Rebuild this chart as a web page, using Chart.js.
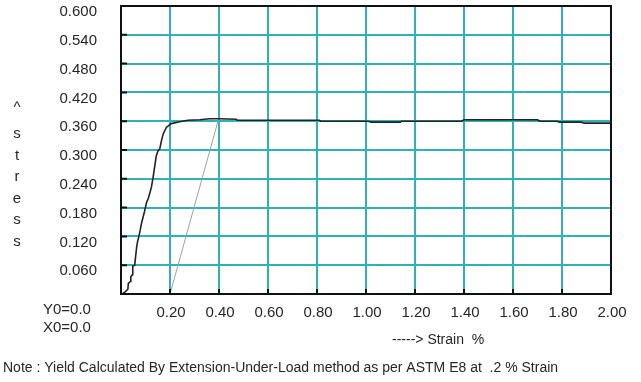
<!DOCTYPE html>
<html>
<head>
<meta charset="utf-8">
<title>Stress - Strain</title>
<script src="https://cdn.jsdelivr.net/npm/chart.js@4.4.1/dist/chart.umd.min.js"></script>
<style>
    html, body { margin: 0; padding: 0; background: #fff; }
    #wrap { position: relative; width: 641px; height: 382px; }
</style>
</head>
<body>
<div id="wrap"><canvas id="stressChart" width="641" height="382"></canvas></div>
<script>
// measured curve (strain %, stress)
const strain = [0.004, 0.016, 0.028, 0.030, 0.038, 0.040, 0.046, 0.048, 0.056, 0.060,
    0.064, 0.068, 0.072, 0.078, 0.084, 0.090, 0.096, 0.104, 0.112, 0.124,
    0.131, 0.138, 0.144, 0.151, 0.158, 0.165, 0.172, 0.185, 0.205, 0.239,
    0.273, 0.321, 0.361, 0.402, 0.470, 0.475, 0.810, 0.815, 1.010, 1.020,
    1.140, 1.145, 1.390, 1.400, 1.700, 1.710, 1.780, 1.790, 1.880, 1.890, 2.000];
const stress = [0.000, 0.004, 0.010, 0.022, 0.026, 0.036, 0.040, 0.058, 0.060, 0.080,
    0.098, 0.110, 0.118, 0.132, 0.148, 0.160, 0.172, 0.190, 0.200, 0.222,
    0.243, 0.267, 0.288, 0.298, 0.302, 0.319, 0.333, 0.347, 0.355, 0.359,
    0.362, 0.363, 0.365, 0.365, 0.364, 0.362, 0.362, 0.360, 0.360, 0.358,
    0.358, 0.360, 0.360, 0.363, 0.363, 0.360, 0.360, 0.358, 0.358, 0.356, 0.356];

// 0.2 % offset line
const offsetStrain = [0.200, 0.397];
const offsetStress = [0.000, 0.362];

const xTicks = [0, 0.2, 0.4, 0.6, 0.8, 1.0, 1.2, 1.4, 1.6, 1.8, 2.0];
const yTicks = [0, 0.06, 0.12, 0.18, 0.24, 0.30, 0.36, 0.42, 0.48, 0.54, 0.60];

const yAxisLetters = ['^', 's', 't', 'r', 'e', 's', 's'];
const originTexts = ['Y0=0.0', 'X0=0.0'];
const xAxisText = '-----> Strain  %';
const noteText = 'Note : Yield Calculated By Extension-Under-Load method as per ASTM E8 at  .2 % Strain';

const FONT = '"Liberation Sans", Arial, sans-serif';
const GRID = 'rgb(48, 178, 178)';
const TEXT = '#262626';

const toPoints = (xs, ys) => xs.map((x, i) => ({ x: x, y: ys[i] }));

// frame, inward ticks and the loose texts
const framePlugin = {
    id: 'frame',
    afterDraw(chart) {
        const ctx = chart.ctx;
        const a = chart.chartArea;
        const xs = chart.scales.x, ys = chart.scales.y;
        ctx.save();
        ctx.strokeStyle = '#111';
        ctx.lineWidth = 2;
        ctx.strokeRect(a.left, a.top, a.right - a.left, a.bottom - a.top);

        ctx.beginPath();
        xTicks.forEach(v => {
            const px = xs.getPixelForValue(v);
            ctx.moveTo(px, a.bottom);
            ctx.lineTo(px, a.bottom - 5);
        });
        yTicks.forEach(v => {
            const py = ys.getPixelForValue(v);
            ctx.moveTo(a.left, py);
            ctx.lineTo(a.left + 6, py);
        });
        ctx.stroke();

        ctx.fillStyle = TEXT;
        ctx.textBaseline = 'middle';
        ctx.textAlign = 'center';
        ctx.font = '15px ' + FONT;
        const letterY = [108, 134, 156, 177, 199, 220, 242];
        yAxisLetters.forEach((c, i) => ctx.fillText(c, 17, letterY[i]));

        ctx.textAlign = 'left';
        ctx.fillText(originTexts[0], 43, 310);
        ctx.fillText(originTexts[1], 43, 328);
        ctx.font = '14px ' + FONT;
        ctx.fillText(xAxisText, 392, 340);
        ctx.fillText(noteText, 3, 368);
        ctx.restore();
    }
};

document.addEventListener('DOMContentLoaded', () => {
    const ctx = document.getElementById('stressChart').getContext('2d');
    new Chart(ctx, {
        type: 'line',
        data: {
            datasets: [{
                label: 'stress',
                data: toPoints(strain, stress),
                borderColor: '#222',
                borderWidth: 1.6,
                pointRadius: 0,
                tension: 0
            }, {
                label: 'offset',
                data: toPoints(offsetStrain, offsetStress),
                borderColor: 'rgb(160, 160, 160)',
                borderWidth: 1,
                pointRadius: 0,
                tension: 0
            }]
        },
        options: {
            responsive: false,
            animation: false,
            devicePixelRatio: 1,
            layout: { padding: { left: 0, right: 30, top: 6, bottom: 0 } },
            plugins: {
                legend: { display: false },
                tooltip: { enabled: false }
            },
            scales: {
                x: {
                    type: 'linear',
                    min: 0,
                    max: 2,
                    afterFit: s => { s.height = 88; s.paddingLeft = 0; s.paddingRight = 0; },
                    afterBuildTicks: s => { s.ticks = xTicks.map(v => ({ value: v })); },
                    border: { display: false },
                    grid: { color: GRID, lineWidth: 2, drawTicks: false },
                    ticks: {
                        autoSkip: false,
                        maxRotation: 0,
                        padding: 10,
                        labelOffset: 1,
                        color: TEXT,
                        font: { family: FONT, size: 15 },
                        callback: v => v === 0 ? '' : v.toFixed(2)
                    }
                },
                y: {
                    min: 0,
                    max: 0.6,
                    afterFit: s => { s.width = 121; s.paddingTop = 0; s.paddingBottom = 0; },
                    afterBuildTicks: s => { s.ticks = yTicks.map(v => ({ value: v })); },
                    border: { display: false },
                    grid: { color: GRID, lineWidth: 2, drawTicks: false },
                    ticks: {
                        autoSkip: false,
                        padding: 24,
                        labelOffset: 6,
                        color: TEXT,
                        font: { family: FONT, size: 15 },
                        callback: v => v === 0 ? '' : v.toFixed(3)
                    }
                }
            }
        },
        plugins: [framePlugin]
    });
});
</script>
</body>
</html>
